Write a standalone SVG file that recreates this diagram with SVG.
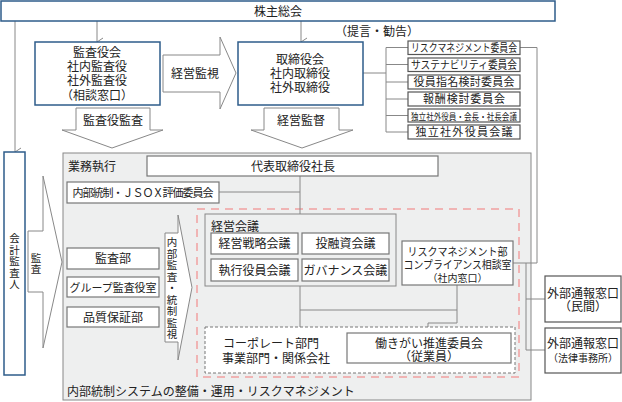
<svg xmlns="http://www.w3.org/2000/svg" width="622" height="402" viewBox="0 0 622 402">
<style>
text{font-family:"Noto Sans CJK JP","Noto Sans CJK SC",sans-serif;font-size:12px;fill:#222;}
.s{font-size:11px;}
.m{text-anchor:middle;}
.vt{writing-mode:vertical-rl;font-size:10.5px;letter-spacing:1px;}
.blue{fill:#fff;stroke:#2e5c8a;stroke-width:1.5;}
.box{fill:#fff;stroke:#777;stroke-width:1.2;}
.cbox{fill:#fff;stroke:#555;stroke-width:1.2;}
.arr{fill:#fff;stroke:#888;stroke-width:1;}
.ln{fill:none;stroke:#888;stroke-width:1;}
.gray{fill:#eeefef;stroke:#888;stroke-width:1;}
</style>
<defs>
<marker id="v" viewBox="0 0 10 10" refX="5" refY="9" markerWidth="10" markerHeight="10" markerUnits="userSpaceOnUse" orient="auto-start-reverse">
<path d="M1,3 L5,9 L9,3" fill="none" stroke="#888" stroke-width="1"/>
</marker>
</defs>

<g id="background">
<rect class="gray" x="63" y="153" width="468" height="247"/>
<rect x="197" y="209" width="322" height="168" fill="none" stroke="#f0b4b4" stroke-width="2" stroke-dasharray="8,6"/>
</g>

<g id="connectors">
<line class="ln" x1="15" y1="21" x2="15" y2="152" marker-end="url(#v)"/>
<line class="ln" x1="97" y1="21" x2="97" y2="42" marker-end="url(#v)"/>
<line class="ln" x1="301" y1="21" x2="301" y2="42" marker-end="url(#v)"/>
<polyline class="ln" points="363,73 386,73"/>
<polyline class="ln" points="386,47.5 386,132"/>
<polyline class="ln" points="386,47.5 408,47.5"/>
<polyline class="ln" points="386,64.5 408,64.5"/>
<polyline class="ln" points="386,82 408,82"/>
<polyline class="ln" points="386,99 408,99"/>
<polyline class="ln" points="386,115.5 408,115.5"/>
<polyline class="ln" points="386,132 408,132"/>
<polyline class="ln" points="520,47.5 537,47.5 537,263 513,263"/>
<polyline class="ln" points="526,263 526,350 545,350"/>
<polyline class="ln" points="526,299 545,299"/>
<polyline class="ln" points="300,176 300,214"/>
<polyline class="ln" points="219,192 300,192"/>
<polyline class="ln" points="300,286 300,327"/>
<polyline class="ln" points="300,310 457,310"/>
<polyline class="ln" points="457,285 457,323 428,323 428,333"/>
</g>

<g id="shareholders">
<rect class="blue" x="1" y="1" width="554" height="20"/>
<text class="m" x="278" y="15.5">株主総会</text>
</g>

<g id="kansayakukai">
<rect class="blue" x="35" y="42" width="125" height="63"/>
<text class="m" x="97" y="57">監査役会</text>
<text class="m" x="97" y="71">社内監査役</text>
<text class="m" x="97" y="85">社外監査役</text>
<text class="m" x="97" y="99.5">（相談窓口）</text>
</g>

<g id="arrow-keiei-kanshi">
<polygon class="arr" points="163,55 220,55 220,37 236,73 220,109 220,92 163,92"/>
<text class="m" x="195" y="78">経営監視</text>
</g>

<g id="torishimariyakukai">
<rect class="blue" x="238" y="42" width="125" height="63"/>
<text class="m" x="300" y="64">取締役会</text>
<text class="m" x="300" y="78">社内取締役</text>
<text class="m" x="300" y="92">社外取締役</text>
</g>

<g id="teigen">
<text x="335" y="36">（提言・勧告）</text>
</g>

<g id="committees">
<rect class="cbox" x="408" y="41" width="112" height="13.5"/>
<text class="m s" x="464" y="51.5" textLength="106" lengthAdjust="spacingAndGlyphs">リスクマネジメント委員会</text>
<rect class="cbox" x="408" y="58" width="112" height="13.5"/>
<text class="m s" x="464" y="68.5" textLength="106" lengthAdjust="spacingAndGlyphs">サステナビリティ委員会</text>
<rect class="cbox" x="408" y="75" width="112" height="14"/>
<text class="m s" x="464" y="86" textLength="101" lengthAdjust="spacing">役員指名検討委員会</text>
<rect class="cbox" x="408" y="92" width="112" height="14"/>
<text class="m s" x="464" y="103" textLength="82" lengthAdjust="spacing">報酬検討委員会</text>
<rect class="cbox" x="408" y="109" width="112" height="13"/>
<text class="m" x="464" y="119.5" style="font-size:9.5px" textLength="106" lengthAdjust="spacingAndGlyphs">独立社外役員・会長・社長会議</text>
<rect class="cbox" x="408" y="125" width="112" height="14"/>
<text class="m s" x="464" y="136" textLength="97" lengthAdjust="spacing">独立社外役員会議</text>
</g>

<g id="arrow-kansayaku-kansa">
<polygon class="arr" points="76,108 150,108 150,130 163,130 112,148 62,130 76,130"/>
<text class="m" x="113" y="125">監査役監査</text>
</g>

<g id="arrow-keiei-kantoku">
<polygon class="arr" points="264,108 339,108 339,130 353,130 302,148 251,130 264,130"/>
<text class="m" x="301" y="125">経営監督</text>
</g>

<g id="kaikei-kansanin">
<rect class="blue" x="4" y="152" width="21" height="223"/>
<text class="vt" x="14.5" y="233">会計監査人</text>
</g>

<g id="arrow-kansa">
<polygon class="arr" points="28,231 43,231 43,176 62,262 43,348 43,292 28,292"/>
<text class="vt" x="36" y="252.5">監査</text>
</g>

<g id="gyomu-shikko">
<text x="68" y="170.5">業務執行</text>
</g>

<g id="daihyo">
<rect class="box" x="147" y="156" width="291" height="20"/>
<text class="m" x="293" y="170.5">代表取締役社長</text>
</g>

<g id="jsox">
<rect class="box" x="67" y="182" width="152" height="21"/>
<text class="m s" x="143" y="196.5" textLength="141" lengthAdjust="spacing">内部統制・ＪＳＯＸ評価委員会</text>
</g>

<g id="kansabu">
<rect class="box" x="67" y="248" width="92" height="21"/>
<text class="m" x="113" y="263">監査部</text>
</g>
<g id="group-kansa">
<rect class="box" x="67" y="277" width="92" height="20"/>
<text class="m s" x="113" y="291.5" textLength="87" lengthAdjust="spacingAndGlyphs">グループ監査役室</text>
</g>
<g id="hinshitsu">
<rect class="box" x="67" y="307" width="92" height="20"/>
<text class="m" x="113" y="321.5">品質保証部</text>
</g>

<g id="arrow-naibu">
<polygon class="arr" points="165,233 178,233 178,215 192,287.5 178,360 178,342 165,342"/>
<text class="vt" x="172" y="237">内部監査・統制監視</text>
</g>

<g id="keiei-kaigi">
<rect class="gray" x="205" y="214" width="191" height="72"/>
<text x="211" y="230.5">経営会議</text>
<rect class="box" x="211" y="233" width="87" height="21"/>
<text class="m" x="254.5" y="248">経営戦略会議</text>
<rect class="box" x="302" y="233" width="87" height="21"/>
<text class="m" x="345.5" y="248">投融資会議</text>
<rect class="box" x="211" y="259" width="87" height="22"/>
<text class="m" x="254.5" y="274.5">執行役員会議</text>
<rect class="box" x="302" y="259" width="87" height="22"/>
<text class="m" x="345.5" y="274.5">ガバナンス会議</text>
</g>

<g id="risk-management">
<rect class="box" x="402" y="241" width="111" height="44"/>
<text class="m s" x="457.5" y="255.5" textLength="100" lengthAdjust="spacingAndGlyphs">リスクマネジメント部</text>
<text class="m s" x="457.5" y="269" textLength="108" lengthAdjust="spacingAndGlyphs">コンプライアンス相談室</text>
<text class="m" x="457.5" y="282" style="font-size:10px">（社内窓口）</text>
</g>

<g id="corporate">
<rect x="205" y="327" width="310" height="46" fill="#fff" stroke="#777" stroke-width="1" stroke-dasharray="3,2"/>
<text class="m" x="271" y="347.5">コーポレート部門</text>
<text class="m" x="276" y="362.5">事業部門・関係会社</text>
</g>

<g id="hatarakigai">
<rect class="box" x="347" y="333" width="164" height="30"/>
<text class="m" x="429" y="347.5">働きがい推進委員会</text>
<text class="m" x="429" y="361">（従業員）</text>
</g>

<g id="naibu-tosei">
<text x="67" y="396">内部統制システムの整備・運用・リスクマネジメント</text>
</g>

<g id="gaibu-minkan">
<rect class="cbox" x="545" y="276" width="76" height="46"/>
<text class="m" x="583" y="297.5">外部通報窓口</text>
<text class="m" x="583" y="311">（民間）</text>
</g>
<g id="gaibu-horitsu">
<rect class="cbox" x="545" y="328" width="76" height="45"/>
<text class="m" x="583" y="347.5">外部通報窓口</text>
<text class="m" x="583" y="361.5" style="font-size:10px">（法律事務所）</text>
</g>
</svg>
